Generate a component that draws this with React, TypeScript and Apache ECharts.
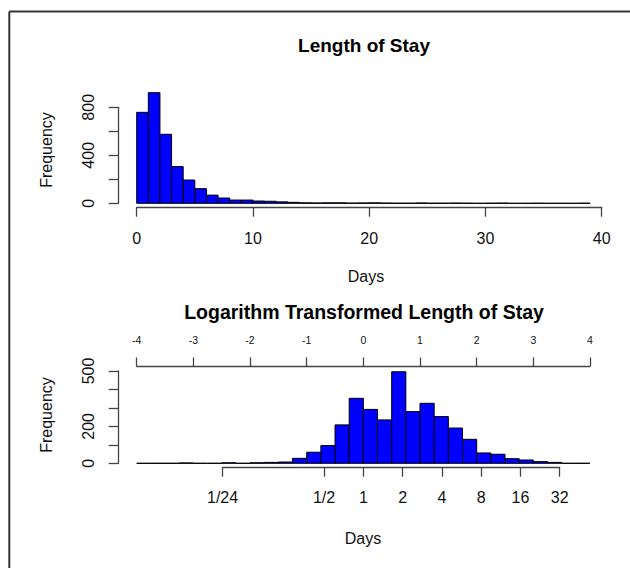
import React, { useEffect, useRef } from "react";
import * as echarts from "echarts";

// ---------- data ----------
// Length of stay histogram: bins of 1 day starting at 0
const losFirstBreak = 0;
const losBinWidth = 1;
const losCounts = [
  758, 922, 575, 306, 194, 122, 68, 44, 27, 27,
  19, 17, 12, 8, 4, 3, 4, 4, 2, 3,
  4, 2, 1, 1, 3, 1, 1, 2, 1, 0,
  1, 2, 0, 0, 1, 0, 0, 0, 1,
];
const losXTicks = [0, 10, 20, 30, 40];
const losYLabels = [0, 400, 800];

// Log-transformed length of stay: bins of 0.25 starting at -4
const logFirstBreak = -4;
const logBinWidth = 0.25;
const logCounts = [
  0, 0, 0, 2, 0, 0, 3, 0, 3, 5,
  7, 27, 60, 96, 208, 352, 292, 235, 496, 280,
  325, 253, 191, 130, 56, 49, 25, 18, 9, 5,
  0, 0,
];
const logYLabels = [0, 200, 500];
const logDayTickValues = [1 / 12, 1 / 2, 1, 2, 4, 8, 16, 32];
const logDayTickLabels = ["1/24", "1/2", "1", "2", "4", "8", "16", "32"];

// ---------- layout ----------
const W = 630;
const H = 568;
const FONT = '"Liberation Sans", Arial, Helvetica, sans-serif';
const AXIS_COLOR = "#444";
const TEXT_COLOR = "#111";

const top = { left: 136.7, right: 601.7, top: 107.3, bottom: 203.3 };
const bot = { left: 136.7, right: 590, top: 371, bottom: 463.3 };
const logMin = -4;
const logMax = 4;
const pxLog = (v: number) => bot.left + ((v - logMin) / (logMax - logMin)) * (bot.right - bot.left);
const logTickPos = logDayTickValues.map((d) => Math.log(d));
const dayAxisLeft = pxLog(logTickPos[0]);
const dayAxisRight = pxLog(logTickPos[logTickPos.length - 1]);

function bins(first: number, width: number, counts: number[]) {
  return counts.map((c, i) => [first + i * width, first + (i + 1) * width, c]);
}

const renderBar = (params: any, api: any) => {
  const a = api.coord([api.value(0), 0]);
  const b = api.coord([api.value(1), api.value(2)]);
  return {
    type: "polygon",
    shape: {
      points: [
        [a[0], a[1]],
        [a[0], b[1]],
        [b[0], b[1]],
        [b[0], a[1]],
      ],
    },
    style: { fill: "#0000ff", stroke: "#000", lineWidth: 1 },
  };
};

const axisLine = { show: true, onZero: false, lineStyle: { color: AXIS_COLOR, width: 1.3 } };
const tick = (len: number) => ({ show: true, inside: false, length: len, lineStyle: { color: AXIS_COLOR, width: 1.3 } });

export default function App() {
  const ref = useRef<HTMLDivElement>(null);
  useEffect(() => {
    document.body.style.margin = "0";
    const chart = echarts.init(ref.current!, null, { renderer: "svg" });
    const option: any = {
      animation: false,
      backgroundColor: "#fff",
      textStyle: { fontFamily: FONT },
      grid: [
        { left: top.left, width: top.right - top.left, top: top.top, height: top.bottom - top.top },
        { left: bot.left, width: bot.right - bot.left, top: bot.top, height: bot.bottom - bot.top },
        { left: dayAxisLeft, width: dayAxisRight - dayAxisLeft, top: bot.top, height: bot.bottom - bot.top },
      ],
      xAxis: [
        {
          gridIndex: 0, type: "value", min: losXTicks[0], max: losXTicks[losXTicks.length - 1], interval: 10,
          position: "bottom", offset: 4.4,
          axisLine, axisTick: tick(9), splitLine: { show: false },
          axisLabel: { margin: 23, fontSize: 16, color: TEXT_COLOR, fontFamily: FONT },
        },
        {
          gridIndex: 1, type: "value", min: logMin, max: logMax, interval: 1,
          position: "top", offset: 5,
          axisLine, axisTick: tick(8.5), splitLine: { show: false },
          axisLabel: { margin: 21, fontSize: 10.5, color: TEXT_COLOR, fontFamily: FONT },
        },
        {
          gridIndex: 2, type: "value", min: logTickPos[0], max: logTickPos[logTickPos.length - 1],
          position: "bottom", offset: 4.4,
          axisLine, splitLine: { show: false },
          axisTick: { ...tick(9), customValues: logTickPos },
          axisLabel: {
            margin: 22, fontSize: 16, color: TEXT_COLOR, fontFamily: FONT,
            customValues: logTickPos,
            formatter: (v: number) => {
              let best = 0;
              logTickPos.forEach((p, i) => { if (Math.abs(p - v) < Math.abs(logTickPos[best] - v)) best = i; });
              return logDayTickLabels[best];
            },
          },
        },
      ],
      yAxis: [
        {
          gridIndex: 0, type: "value", min: 0, max: 800, interval: 200, offset: 18,
          axisLine, axisTick: tick(10), splitLine: { show: false },
          axisLabel: {
            rotate: 90, margin: 22, fontSize: 16, color: TEXT_COLOR, fontFamily: FONT,
            formatter: (v: number) => (losYLabels.includes(v) ? String(v) : ""),
          },
        },
        {
          gridIndex: 1, type: "value", min: 0, max: 500, interval: 100, offset: 18,
          axisLine, axisTick: tick(10), splitLine: { show: false },
          axisLabel: {
            rotate: 90, margin: 22, fontSize: 16, color: TEXT_COLOR, fontFamily: FONT,
            formatter: (v: number) => (logYLabels.includes(v) ? String(v) : ""),
          },
        },
        { gridIndex: 2, type: "value", min: 0, max: 1, show: false },
      ],
      series: [
        {
          type: "custom", xAxisIndex: 0, yAxisIndex: 0, clip: false,
          renderItem: renderBar, encode: { x: [0, 1], y: 2 },
          data: bins(losFirstBreak, losBinWidth, losCounts),
        },
        {
          type: "custom", xAxisIndex: 1, yAxisIndex: 1, clip: false,
          renderItem: renderBar, encode: { x: [0, 1], y: 2 },
          data: bins(logFirstBreak, logBinWidth, logCounts),
        },
      ],
      graphic: [
        { type: "line", shape: { x1: 9.3, y1: 11.5, x2: W, y2: 11.5 }, style: { stroke: "#333", lineWidth: 2 } },
        { type: "line", shape: { x1: 9.3, y1: 11.5, x2: 9.3, y2: H }, style: { stroke: "#333", lineWidth: 2 } },
        {
          type: "text", x: 364, y: 45,
          style: { text: "Length of Stay", font: `bold 19px ${FONT}`, fill: "#000", textAlign: "center", textVerticalAlign: "middle" },
        },
        {
          type: "text", x: 364, y: 312,
          style: { text: "Logarithm Transformed Length of Stay", font: `bold 19.5px ${FONT}`, fill: "#000", textAlign: "center", textVerticalAlign: "middle" },
        },
        {
          type: "text", x: 366, y: 276,
          style: { text: "Days", font: `16px ${FONT}`, fill: TEXT_COLOR, textAlign: "center", textVerticalAlign: "middle" },
        },
        {
          type: "text", x: 363, y: 538,
          style: { text: "Days", font: `16px ${FONT}`, fill: TEXT_COLOR, textAlign: "center", textVerticalAlign: "middle" },
        },
        {
          type: "text", x: 46, y: 150, rotation: Math.PI / 2,
          style: { text: "Frequency", font: `16px ${FONT}`, fill: TEXT_COLOR, textAlign: "center", textVerticalAlign: "middle" },
        },
        {
          type: "text", x: 46, y: 415, rotation: Math.PI / 2,
          style: { text: "Frequency", font: `16px ${FONT}`, fill: TEXT_COLOR, textAlign: "center", textVerticalAlign: "middle" },
        },
      ],
    };
    chart.setOption(option);
    return () => chart.dispose();
  }, []);
  return <div ref={ref} style={{ position: "fixed", left: 0, top: 0, width: W, height: H }} />;
}
